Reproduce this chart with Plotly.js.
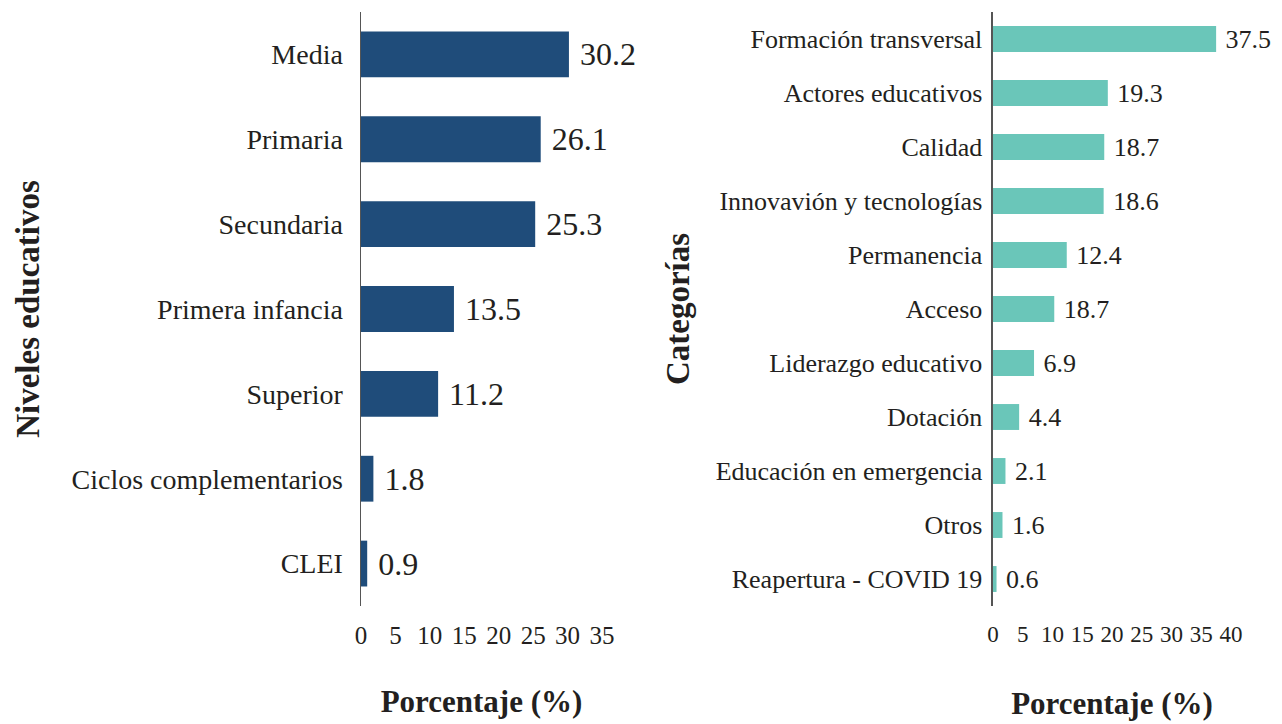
<!DOCTYPE html>
<html><head><meta charset="utf-8">
<script src="https://cdn.plot.ly/plotly-3.0.1.min.js"></script>
<style>html,body{margin:0;padding:0;background:#fff}#chart{width:1282px;height:724px}</style>
</head><body><div id="chart"></div><script>
// Left panel: educational levels
const nivelesCategorias = ['CLEI', 'Ciclos complementarios', 'Superior', 'Primera infancia', 'Secundaria', 'Primaria', 'Media'];
const nivelesValores = [0.9, 1.8, 11.2, 13.5, 25.3, 26.1, 30.2];
const nivelesEtiquetas = ['0.9', '1.8', '11.2', '13.5', '25.3', '26.1', '30.2'];
const nivelesTicks = [0, 5, 10, 15, 20, 25, 30, 35];

// Right panel: categories (bar lengths as drawn; labels as printed)
const categorias = ['Reapertura - COVID 19', 'Otros', 'Educación en emergencia', 'Dotación', 'Liderazgo educativo', 'Acceso', 'Permanencia', 'Innovavión y tecnologías', 'Calidad', 'Actores educativos', 'Formación transversal'];
const categoriasValores = [0.6, 1.6, 2.1, 4.4, 6.9, 10.3, 12.4, 18.6, 18.7, 19.3, 37.5];
const categoriasEtiquetas = ['0.6', '1.6', '2.1', '4.4', '6.9', '18.7', '12.4', '18.6', '18.7', '19.3', '37.5'];
const categoriasTicks = [0, 5, 10, 15, 20, 25, 30, 35, 40];

const FONT = 'Liberation Serif, Times New Roman, serif';
const INK = '#231f20';
const pad = s => '\u00a0' + s;

const traces = [
  {
    type: 'bar', orientation: 'h',
    x: nivelesValores, y: nivelesCategorias,
    text: nivelesEtiquetas.map(pad), textposition: 'outside', constraintext: 'none',
    textfont: {family: FONT, size: 32, color: INK},
    cliponaxis: false, width: 0.54,
    marker: {color: '#1f4c7a'},
    xaxis: 'x', yaxis: 'y', hoverinfo: 'none', showlegend: false
  },
  {
    type: 'bar', orientation: 'h',
    x: categoriasValores, y: categorias,
    text: categoriasEtiquetas.map(pad), textposition: 'outside', constraintext: 'none',
    textfont: {family: FONT, size: 26, color: INK},
    cliponaxis: false, width: 0.48,
    marker: {color: '#6ac6b9'},
    xaxis: 'x2', yaxis: 'y2', hoverinfo: 'none', showlegend: false
  }
];

const xCommon = {
  showgrid: false, zeroline: false, showline: false, ticks: '',
  tickangle: 0, tickmode: 'array', ticklabelstandoff: 12,
  tickfont: {family: FONT, size: 25, color: INK}
};
const yCommon = {
  showgrid: false, zeroline: false, showline: true, linecolor: '#555555', linewidth: 1.5,
  ticks: '', type: 'category', automargin: false
};

const layout = {
  width: 1282, height: 724,
  margin: {l: 361, r: 51, t: 12, b: 118},
  paper_bgcolor: '#ffffff', plot_bgcolor: '#ffffff',
  font: {family: FONT, color: INK},
  showlegend: false,
  xaxis: Object.assign({}, xCommon, {
    domain: [0, 0.277], range: [0, 35], anchor: 'y', tickvals: nivelesTicks,
    title: {text: 'Porcentaje (%)', font: {family: FONT, size: 31, color: INK, weight: 'bold'}, standoff: 42}
  }),
  yaxis: Object.assign({}, yCommon, {
    domain: [0, 1], anchor: 'x', range: [-0.5, 6.5], ticklabelstandoff: 11,
    tickfont: {family: FONT, size: 28, color: INK},
    title: {text: 'Niveles educativos', font: {family: FONT, size: 33, color: INK, weight: 'bold'}, standoff: 22}
  }),
  xaxis2: Object.assign({}, xCommon, {
    domain: [0.7264, 1], range: [0, 40], anchor: 'y2', tickvals: categoriasTicks,
    tickfont: {family: FONT, size: 23, color: INK},
    title: {text: 'Porcentaje (%)', font: {family: FONT, size: 31, color: INK, weight: 'bold'}, standoff: 46}
  }),
  yaxis2: Object.assign({}, yCommon, {
    domain: [0, 1], anchor: 'x2', range: [-0.5, 10.5], ticklabelstandoff: 4,
    tickfont: {family: FONT, size: 26, color: INK},
    title: {text: 'Categorías', font: {family: FONT, size: 33, color: INK, weight: 'bold'}, standoff: 16}
  })
};

Plotly.newPlot('chart', traces, layout, {displayModeBar: false, staticPlot: true});
</script></body></html>
